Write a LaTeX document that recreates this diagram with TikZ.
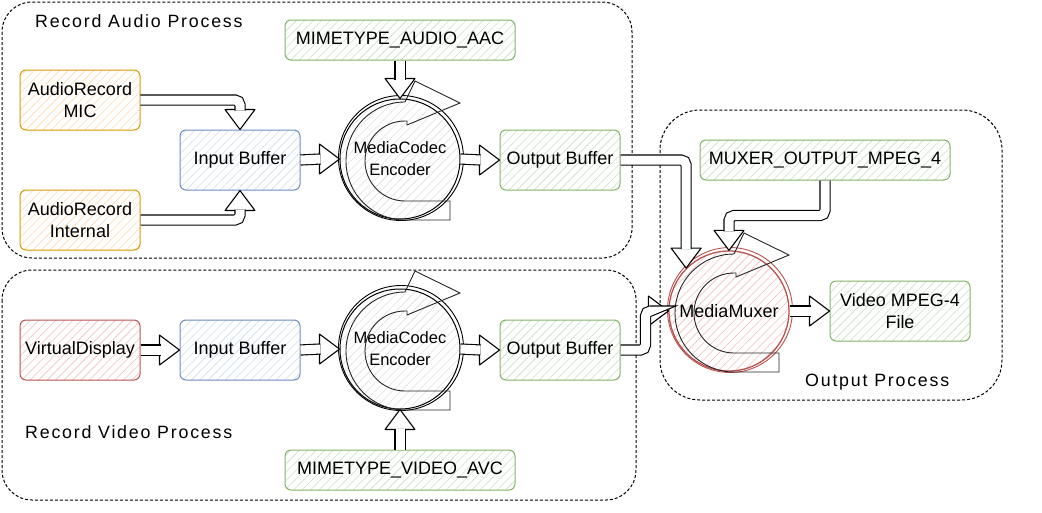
\documentclass[tikz,border=0pt]{standalone}
\usepackage{fontspec}
\setmainfont{Liberation Sans}
\newfontfamily\handfont{Liberation Sans}[LetterSpace=10]
\usetikzlibrary{calc,patterns.meta}

\definecolor{orline}{HTML}{D79B00}
\definecolor{orhatch}{HTML}{FFD9B0}
\definecolor{blline}{HTML}{6C8EBF}
\definecolor{blhatch}{HTML}{C9DCF7}
\definecolor{grline}{HTML}{82B366}
\definecolor{grhatch}{HTML}{C6E2C2}
\definecolor{rdline}{HTML}{B85450}
\definecolor{rdhatch}{HTML}{F4BFBC}

\tikzset{
  hatch/.style={pattern={Lines[angle=45,distance=6pt,line width=0.6pt]}, pattern color=#1},
  box/.style={draw, line width=1pt, rounded corners=6pt, minimum width=120pt,
    minimum height=60pt, align=center, inner sep=2pt, font=\fontsize{18}{22}\selectfont},
  orangebox/.style={box, draw=orline, hatch=orhatch},
  bluebox/.style={box, draw=blline, hatch=blhatch},
  greenbox/.style={box, draw=grline, hatch=grhatch},
  redbox/.style={box, draw=rdline, hatch=rdhatch},
  codec/.style={circle, draw, line width=1pt, minimum size=120pt, inner sep=0pt,
    align=center, hatch=black!12, font=\fontsize{16.5}{22}\selectfont},
  group/.style={draw, line width=1pt, dash pattern=on 3pt off 2pt, rounded corners=#1},
  grouplabel/.style={anchor=west, inner sep=0pt, font=\handfont\fontsize{17.8}{20}\selectfont},
  shaft/.style={draw, line width=1.1pt, double=white, double distance=9pt, rounded corners=5pt},
  head/.style={draw, fill=white, line width=1.1pt, line join=round},
  cyc/.style={line width=0.9pt}
}

\newcommand{\fathead}[2]{\draw[head, shift={#1}, rotate=#2] (0,0) -- (-20,-15) -- (-20,15) -- cycle;}

\begin{document}
\begin{tikzpicture}[x=1pt,y=-1pt]
  \fill[white] (0,0) rectangle (1042,512);
  \useasboundingbox (0,0) rectangle (1042,512);

  % process frames
  \draw[group=30pt] (2,2) rectangle (632,258);
  \draw[group=30pt] (2,270) rectangle (636,500);
  \draw[group=40pt] (660,110) rectangle (1002,400);
  \node[grouplabel] (audiolbl) at (35,21) {Record Audio Process};
  \node[grouplabel] (videolbl) at (25,432) {Record Video Process};
  \node[grouplabel] (outlbl) at (805,382) {Output Process};

  % audio
  \node[orangebox] (mic) at (80,100) {AudioRecord\\MIC};
  \node[orangebox] (inner) at (80,220) {AudioRecord\\Internal};
  \node[bluebox] (ainbuf) at (240,160) {Input Buffer};
  \node[greenbox, minimum width=230pt, minimum height=40pt] (aac) at (400,40) {MIMETYPE\_AUDIO\_AAC};
  \node[codec] (aenc) at (400,159) {MediaCodec\\Encoder};
  \node[greenbox] (aoutbuf) at (560,160) {Output Buffer};

  % video
  \node[redbox] (vdisp) at (80,350) {VirtualDisplay};
  \node[bluebox] (vinbuf) at (240,350) {Input Buffer};
  \node[codec] (venc) at (400,349) {MediaCodec\\Encoder};
  \node[greenbox] (voutbuf) at (560,350) {Output Buffer};
  \node[greenbox, minimum width=230pt, minimum height=40pt] (avc) at (400,470) {MIMETYPE\_VIDEO\_AVC};

  % output
  \node[greenbox, minimum width=250pt, minimum height=40pt] (muxfmt) at (825,160) {MUXER\_OUTPUT\_MPEG\_4};
  \node[codec, draw=rdline, line width=1.3pt, hatch=rdhatch, font=\fontsize{18}{22}\selectfont] (muxer) at (729,311) {MediaMuxer};
  \node[greenbox, minimum width=140pt] (mp4) at (900,311) {Video MPEG-4\\File};

  % sketchy second stroke and cycle marks
  \foreach \c/\col in {aenc/black, venc/black, muxer/rdline} {
    \draw[line width=0.9pt, draw=\col] ($(\c.center)+(1,-1)$) circle[radius=62.5];
    \draw[cyc, draw=black!85, shift={($(\c.center)+(5,2)$)}] (0,40) -- (45,40) -- (45,59) -- (0,59)
      arc[start angle=90, end angle=270, radius=59] -- (10,-80) -- (55,-58) -- (2,-36) -- (2,-40) -- (0,-40)
      arc[start angle=270, end angle=90, radius=40];
  }

  % heads
  \fathead{(ainbuf.north)}{-90}
  \fathead{(ainbuf.south)}{90}
  \fathead{(aenc.west)}{0}
  \fathead{(aenc.north)}{-90}
  \fathead{(aoutbuf.west)}{0}
  \fathead{(muxer.north west)}{-90}
  \fathead{(muxer.west)}{0}
  \fathead{(muxer.north)}{-90}
  \fathead{(mp4.west)}{0}
  \fathead{(vinbuf.west)}{0}
  \fathead{(venc.west)}{0}
  \fathead{(voutbuf.west)}{0}
  \fathead{(venc.south)}{90}

  % shafts
  \draw[shaft] (mic.east) -| ($(ainbuf.north)+(0,-19)$);
  \draw[shaft] (inner.east) -| ($(ainbuf.south)+(0,19)$);
  \draw[shaft] (ainbuf.east) -- ($(aenc.west)+(-19,0)$);
  \draw[shaft] (aac.south) -- ($(aenc.north)+(0,-19)$);
  \draw[shaft] (aenc.east) -- ($(aoutbuf.west)+(-19,0)$);
  \draw[shaft] (aoutbuf.east) -| ($(muxer.north west)+(0,-19)$);
  \draw[shaft] (voutbuf.east) -- ++(25,0) |- ($(muxer.west)+(-19,0)$);
  \draw[shaft] (muxfmt.south) -- ++(0,35) -| ($(muxer.north)+(0,-19)$);
  \draw[shaft] (muxer.east) -- ($(mp4.west)+(-19,0)$);
  \draw[shaft] (vdisp.east) -- ($(vinbuf.west)+(-19,0)$);
  \draw[shaft] (vinbuf.east) -- ($(venc.west)+(-19,0)$);
  \draw[shaft] (venc.east) -- ($(voutbuf.west)+(-19,0)$);
  \draw[shaft] (avc.north) -- ($(venc.south)+(0,19)$);
\end{tikzpicture}
\end{document}
